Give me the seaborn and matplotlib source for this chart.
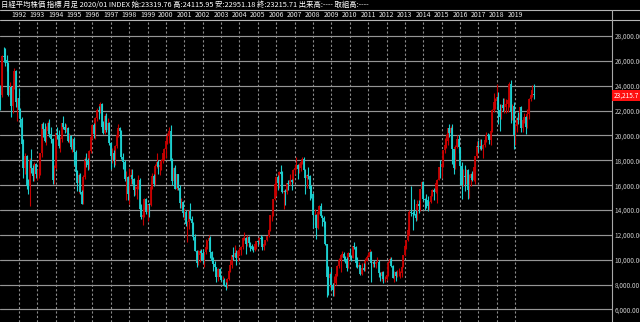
import numpy as np
import pandas as pd
import matplotlib
matplotlib.use("Agg")
import matplotlib.pyplot as plt
import seaborn as sns
from matplotlib.lines import Line2D

# Nikkei 225 monthly candles, Jan 1991 .. Jan 2020
opens = [
    23849, 23293, 26409, 26292, 26111, 25790, 23291, 23900, 22336, 23916, 25222, 22687,
    22984, 22023, 21339, 19346, 17391, 18348, 15952, 15910, 18061, 17399, 16767, 17684,
    16925, 17024, 17098, 18591, 20919, 20552, 19590, 20380, 21027, 20106, 19703, 16408,
    17417, 20229, 19997, 19112, 19725, 20973, 20644, 20449, 20629, 19564, 19990, 19076,
    19723, 18650, 17053, 16140, 16807, 15437, 14517, 16678, 18117, 17913, 17655, 18744,
    19868, 20813, 20125, 21407, 22041, 21956, 22531, 20692, 20167, 21556, 20466, 21020,
    19361, 18330, 18557, 18003, 19151, 20069, 20605, 20331, 18229, 17888, 16459, 16636,
    15259, 16628, 16831, 16527, 15641, 15671, 15830, 16379, 14108, 13406, 13565, 14883,
    13842, 14499, 14368, 15837, 16702, 16112, 17530, 17862, 17437, 17605, 17942, 18558,
    18934, 19540, 19960, 20337, 17974, 16332, 17411, 15727, 16861, 15747, 14540, 14649,
    13786, 13844, 12884, 12999, 13934, 13262, 12969, 11861, 10714, 9775, 10367, 10697,
    10543, 9998, 10588, 11025, 11493, 11764, 10622, 9878, 9619, 9383, 8640, 9216,
    8579, 8340, 8363, 7973, 7831, 8425, 9083, 9563, 10344, 10219, 10560, 10101,
    10677, 10784, 11042, 11715, 11762, 11236, 11859, 11326, 11082, 10824, 10771, 11231,
    11489, 11388, 11741, 11669, 11009, 11277, 11584, 11900, 12414, 13574, 13607, 14872,
    16111, 16650, 16205, 17060, 16906, 15467, 15505, 15457, 16141, 16128, 16399, 16274,
    17226, 17383, 17604, 17288, 17400, 17876, 18138, 17249, 16569, 16786, 16737, 15681,
    15308, 13592, 13603, 12526, 13850, 14339, 13481, 13377, 13073, 11260, 8577, 8512,
    8860, 7994, 7568, 8110, 8828, 9523, 9958, 10357, 10493, 10133, 10035, 9345,
    10546, 10198, 10126, 11090, 11057, 9769, 9383, 9537, 8824, 9369, 9202, 9937,
    10229, 10237, 10624, 9755, 9850, 9694, 9816, 9833, 8955, 8700, 8988, 8435,
    8455, 8803, 9723, 10084, 9521, 8543, 9007, 8695, 8840, 8870, 8928, 9446,
    10395, 11139, 11559, 12398, 13861, 13775, 13677, 13668, 13389, 14456, 14328, 15662,
    16291, 14915, 14841, 14828, 14304, 14632, 15162, 15621, 15425, 16174, 16414, 17460,
    17451, 17674, 18798, 19207, 19520, 20563, 20236, 20585, 18890, 17388, 19083, 19747,
    19034, 17518, 16027, 16759, 16666, 17235, 15576, 16569, 16887, 16450, 17425, 18308,
    19114, 19041, 19119, 18909, 19197, 19651, 20033, 19925, 19646, 20356, 22012, 22725,
    22765, 23098, 22068, 21454, 22468, 22202, 22305, 22554, 22865, 24120, 21920, 22351,
    20015, 20773, 21385, 21206, 22259, 20601, 21276, 21522, 20704, 21756, 22927, 23294,
    23320,
]
highs = [
    24070, 26500, 27146, 27000, 26500, 25900, 24300, 23950, 24000, 25400, 25300, 23000,
    23800, 22200, 21500, 19700, 18600, 18400, 16500, 18200, 18900, 17600, 17900, 17800,
    17300, 17400, 18600, 21000, 21100, 21000, 20800, 21150, 21300, 20700, 19800, 17600,
    20300, 20700, 20400, 19900, 21000, 21552, 21000, 20900, 20700, 20200, 20000, 19800,
    19900, 18800, 17200, 17000, 17000, 15600, 16800, 18300, 18600, 18200, 18800, 19900,
    20900, 21000, 21500, 22200, 22400, 22666, 22600, 21200, 21700, 21800, 21400, 21100,
    19450, 19000, 18800, 19200, 20400, 20910, 20700, 20400, 18600, 18000, 17100, 16700,
    17400, 17300, 17300, 16600, 15900, 16000, 16800, 16600, 14500, 14200, 15000, 15000,
    14500, 14600, 16300, 17000, 16900, 17700, 18600, 18000, 17900, 18100, 18600, 19000,
    19600, 20200, 20700, 20833, 18200, 17500, 17600, 16900, 16900, 16000, 15000, 14700,
    14200, 14000, 13100, 14000, 14530, 13500, 13000, 12100, 10800, 10800, 10900, 10900,
    10900, 10600, 11700, 11600, 12000, 11900, 10700, 10200, 9900, 9400, 9300, 9300,
    8800, 8700, 8500, 8200, 8500, 9200, 10000, 10400, 11000, 11200, 10800, 10700,
    11000, 11100, 11800, 12195, 11800, 12000, 11900, 11400, 11300, 11100, 11300, 11500,
    11600, 11800, 12000, 11900, 11300, 11600, 11900, 12500, 13600, 13900, 14900, 16200,
    16700, 16800, 17100, 17600, 17100, 15600, 15700, 16200, 16400, 16900, 16500, 17300,
    17600, 18300, 17700, 17800, 17900, 18300, 18262, 17300, 16900, 17500, 16800, 16000,
    15400, 14100, 13700, 13900, 14400, 14600, 13600, 13500, 13100, 11300, 9500, 9000,
    9300, 8100, 8700, 9000, 9600, 10170, 10400, 10700, 10600, 10300, 10200, 10600,
    10982, 10400, 11100, 11408, 11100, 10250, 9800, 9600, 9700, 9700, 10100, 10400,
    10600, 10891, 10700, 9900, 10000, 9900, 10200, 10000, 9000, 9100, 9100, 8700,
    8900, 9900, 10255, 10200, 9600, 9100, 9100, 9200, 9300, 9100, 9500, 10400,
    11200, 11600, 12600, 14000, 15942, 13900, 14900, 14000, 14800, 14800, 15700, 16320,
    16300, 15000, 15300, 15100, 14700, 15400, 15700, 15800, 16400, 16500, 17500, 18030,
    17800, 18800, 19800, 20100, 20600, 20953, 20800, 20946, 18900, 19200, 20000, 20000,
    19100, 17900, 17300, 17600, 17300, 17300, 16900, 17000, 17100, 17500, 18350, 19592,
    19600, 19700, 19700, 19300, 19900, 20300, 20200, 20100, 20500, 22100, 23382, 23000,
    24129, 23500, 22500, 22500, 23050, 23000, 22900, 23000, 24300, 24448, 22500, 22700,
    20900, 21500, 21860, 22300, 22400, 21400, 21800, 21600, 22100, 23000, 23600, 24091,
    24116,
]
lows = [
    22083, 23100, 25900, 25600, 25200, 23200, 22900, 21456, 21800, 23700, 22300, 21123,
    21500, 20700, 19300, 16600, 16900, 15700, 15300, 14309, 17000, 16300, 16300, 16600,
    16400, 16600, 16800, 18300, 19900, 19500, 19200, 20100, 19900, 19400, 16079, 16100,
    17300, 19700, 19000, 18700, 19500, 20500, 20200, 20300, 19500, 19400, 18900, 18700,
    17600, 16800, 15500, 15381, 15300, 14500, 14485, 16500, 17500, 17200, 17300, 18600,
    19700, 19800, 19700, 21200, 21300, 21800, 20500, 20100, 20100, 20300, 20200, 19200,
    17300, 17800, 17500, 17600, 19000, 19900, 19800, 18100, 17300, 16300, 14800, 14775,
    14500, 16100, 16100, 15100, 15200, 14900, 15700, 13900, 13300, 12787, 13400, 13700,
    13100, 13400, 14300, 15700, 15900, 16000, 17400, 16900, 16800, 17200, 17800, 18000,
    18200, 19300, 19400, 17900, 16000, 16200, 15700, 15600, 15600, 14200, 14200, 13400,
    13300, 12700, 11433, 12500, 13200, 12500, 11600, 10700, 9382, 9600, 9800, 10000,
    9700, 9420, 10500, 10900, 11300, 10100, 9800, 9100, 9100, 8200, 8300, 8500,
    8300, 8200, 7850, 7603, 7700, 8400, 9000, 9300, 10000, 10200, 9600, 9900,
    10400, 10400, 10900, 11600, 10500, 11100, 11000, 10700, 10800, 10600, 10700, 10900,
    11200, 11300, 11600, 10800, 10800, 11200, 11500, 11800, 12300, 13100, 13500, 14800,
    15100, 15600, 15800, 16800, 15400, 14045, 14400, 15300, 15600, 16000, 15600, 16200,
    16900, 17300, 16500, 17000, 17100, 17700, 17200, 15262, 15800, 16500, 14800, 15000,
    12573, 12800, 11691, 12500, 13700, 13400, 12700, 12600, 11200, 6995, 7200, 7800,
    7600, 7100, 7055, 8000, 8700, 9300, 9050, 10200, 9900, 9700, 9076, 9300,
    10100, 9900, 10100, 10900, 9400, 9300, 9100, 8800, 8800, 9100, 9100, 9900,
    10200, 10200, 8227, 9400, 9400, 9300, 9800, 8600, 8300, 8300, 8135, 8200,
    8350, 8700, 9700, 9400, 8500, 8238, 8300, 8600, 8700, 8500, 8600, 9400,
    10300, 10900, 11500, 12000, 13500, 12400, 13600, 13100, 13200, 13800, 13900, 15400,
    14700, 13995, 14200, 13900, 13964, 14600, 15100, 14800, 15400, 14529, 16400, 16600,
    16600, 17500, 18600, 19000, 19200, 19900, 19100, 17714, 16901, 17300, 19000, 18600,
    16017, 14865, 15900, 15500, 16100, 14864, 15000, 15900, 16300, 16300, 16111, 18200,
    18650, 18800, 18800, 18224, 19100, 19500, 19800, 19300, 19200, 20300, 21900, 22100,
    22700, 20950, 20347, 21300, 22000, 21800, 21800, 21900, 22300, 20971, 21243, 18949,
    19241, 20300, 20900, 21000, 20300, 20300, 21000, 20110, 20600, 21300, 22800, 23100,
    22951,
]
closes = [
    23293, 26409, 26292, 26111, 25790, 23291, 23900, 22336, 23916, 25222, 22687, 22984,
    22023, 21339, 19346, 17391, 18348, 15952, 15910, 18061, 17399, 16767, 17684, 16925,
    17024, 17098, 18591, 20919, 20552, 19590, 20380, 21027, 20106, 19703, 16408, 17417,
    20229, 19997, 19112, 19725, 20973, 20644, 20449, 20629, 19564, 19990, 19076, 19723,
    18650, 17053, 16140, 16807, 15437, 14517, 16678, 18117, 17913, 17655, 18744, 19868,
    20813, 20125, 21407, 22041, 21956, 22531, 20692, 20167, 21556, 20466, 21020, 19361,
    18330, 18557, 18003, 19151, 20069, 20605, 20331, 18229, 17888, 16459, 16636, 15259,
    16628, 16831, 16527, 15641, 15671, 15830, 16379, 14108, 13406, 13565, 14883, 13842,
    14499, 14368, 15837, 16702, 16112, 17530, 17862, 17437, 17605, 17942, 18558, 18934,
    19540, 19960, 20337, 17974, 16332, 17411, 15727, 16861, 15747, 14540, 14649, 13786,
    13844, 12884, 12999, 13934, 13262, 12969, 11861, 10714, 9775, 10367, 10697, 10543,
    9998, 10588, 11025, 11493, 11764, 10622, 9878, 9619, 9383, 8640, 9216, 8579,
    8340, 8363, 7973, 7831, 8425, 9083, 9563, 10344, 10219, 10560, 10101, 10677,
    10784, 11042, 11715, 11762, 11236, 11859, 11326, 11082, 10824, 10771, 11231, 11489,
    11388, 11741, 11669, 11009, 11277, 11584, 11900, 12414, 13574, 13607, 14872, 16111,
    16650, 16205, 17060, 16906, 15467, 15505, 15457, 16141, 16128, 16399, 16274, 17226,
    17383, 17604, 17288, 17400, 17876, 18138, 17249, 16569, 16786, 16737, 15681, 15308,
    13592, 13603, 12526, 13850, 14339, 13481, 13377, 13073, 11260, 8577, 8512, 8860,
    7994, 7568, 8110, 8828, 9523, 9958, 10357, 10493, 10133, 10035, 9345, 10546,
    10198, 10126, 11090, 11057, 9769, 9383, 9537, 8824, 9369, 9202, 9937, 10229,
    10237, 10624, 9755, 9850, 9694, 9816, 9833, 8955, 8700, 8988, 8435, 8455,
    8803, 9723, 10084, 9521, 8543, 9007, 8695, 8840, 8870, 8928, 9446, 10395,
    11139, 11559, 12398, 13861, 13775, 13677, 13668, 13389, 14456, 14328, 15662, 16291,
    14915, 14841, 14828, 14304, 14632, 15162, 15621, 15425, 16174, 16414, 17460, 17451,
    17674, 18798, 19207, 19520, 20563, 20236, 20585, 18890, 17388, 19083, 19747, 19034,
    17518, 16027, 16759, 16666, 17235, 15576, 16569, 16887, 16450, 17425, 18308, 19114,
    19041, 19119, 18909, 19197, 19651, 20033, 19925, 19646, 20356, 22012, 22725, 22765,
    23098, 22068, 21454, 22468, 22202, 22305, 22554, 22865, 24120, 21920, 22351, 20015,
    20773, 21385, 21206, 22259, 20601, 21276, 21522, 20704, 21756, 22927, 23294, 23657,
    23216,
]
year_labels = [str(y) for y in range(1992, 2020)]
price_ticks = [6000, 8000, 10000, 12000, 14000, 16000, 18000, 20000, 22000, 24000, 26000, 28000]
last_price = 23215.71
header = ("日経平均株価 指標 月足 2020/01 INDEX 始:23319.76 高:24115.95 "
          "安:22951.18 終:23215.71 出来高:---- 取組高:----")

assert len(opens) == len(highs) == len(lows) == len(closes) == 349

sns.set_theme(style="dark", rc={"axes.facecolor": "black", "figure.facecolor": "black"})
plt.rcParams["font.family"] = ["Noto Sans CJK JP", "DejaVu Sans"]

df = pd.DataFrame({"open": opens, "high": highs, "low": lows, "close": closes})
df["i"] = np.arange(len(df))
df["up"] = df["close"] >= df["open"]
df["btm"] = df[["open", "close"]].min(axis=1)
df["top"] = df[["open", "close"]].max(axis=1)

W, H = 640, 322
fig = plt.figure(figsize=(6.4, 3.22), dpi=100, facecolor="black")
ax = fig.add_axes([0, 0, 612 / W, 302 / H])
ax.set_facecolor("black")
ax.set_xlim(-0.3, 399.2)
ax.set_ylim(4990, 29290)

ax.grid(axis="y", color="#959595", lw=0.85, ls="-")
ax.grid(axis="x", color="#8c8c8c", lw=0.8, ls=(0, (2, 2)))
ax.set_axisbelow(True)

RED, CYAN = "#c80000", "#1ccfcf"
for is_up, col in [(True, RED), (False, CYAN)]:
    d = df[df["up"] == is_up]
    ax.vlines(d["i"], d["low"], d["high"], color=col, lw=0.8)
    ax.vlines(d["i"], d["btm"], d["top"], color=col, lw=1.3)

ax.set_yticks(price_ticks)
ax.set_yticklabels([f"{v:,.2f}" for v in price_ticks])
ax.yaxis.tick_right()
ax.tick_params(axis="y", length=0, pad=2.0, labelsize=4.7, labelcolor="#c8c8c8")

ax.xaxis.tick_top()
ax.set_xticks([12 * (int(y) - 1991) for y in year_labels])
ax.set_xticklabels(year_labels)
ax.tick_params(axis="x", length=0, pad=0.8, labelsize=5, labelcolor="#e6e6e6")

for s in ["left", "top", "bottom"]:
    ax.spines[s].set_visible(False)
ax.spines["right"].set_color("#a8a8a8")
ax.spines["right"].set_linewidth(0.8)

ax.text(1.002, last_price, "23,215.7", transform=ax.get_yaxis_transform(),
        ha="left", va="center", fontsize=4.7, color="white", clip_on=False,
        bbox=dict(boxstyle="square,pad=0.25", fc="#ff1010", ec="none"))

def hline(ypx, x0=0, x1=W):
    fig.add_artist(Line2D([x0 / W, x1 / W], [1 - ypx / H] * 2, transform=fig.transFigure,
                          color="#b4b4b4", lw=0.8))

hline(9.5)
hline(20)
fig.add_artist(Line2D([612 / W] * 2, [1 - 9.5 / H, 1 - 20 / H], transform=fig.transFigure,
                      color="#a8a8a8", lw=0.8))

fig.text(1 / W, 1 - 4.6 / H, header, fontsize=5.3, color="white", ha="left", va="center")

fig.savefig("out.png", dpi=100, facecolor="black")
